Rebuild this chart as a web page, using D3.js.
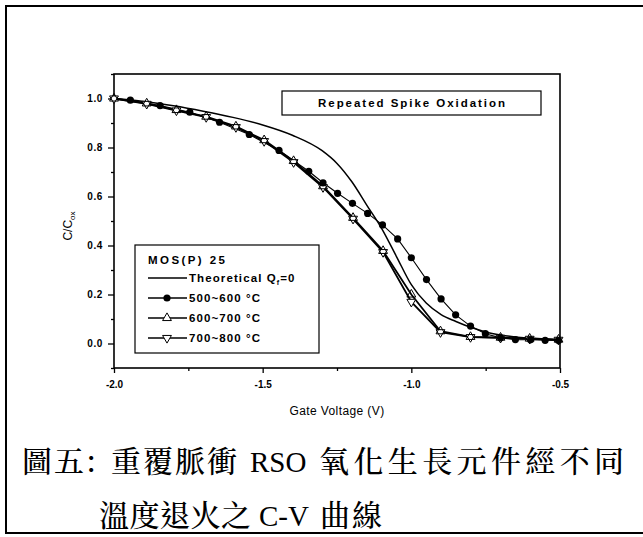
<!DOCTYPE html>
<html>
<head>
  <meta charset="utf-8">
  <script src="https://d3js.org/d3.v7.min.js"></script>
  <style>
    body { margin: 0; background: #fff; }
    text { font-family: "Liberation Sans", Arial, sans-serif; fill: #000; }
    .tick-label { font-size: 10px; font-weight: bold; }
    .cap { font-family: "Noto Serif CJK TC", "Noto Sans CJK TC", serif; font-size: 30px; font-weight: 500; }
    .cap-lat { font-family: "Liberation Serif", "Times New Roman", serif; font-size: 29px; }
  </style>
</head>
<body>
<div id="chart"></div>
<script>
// theoretical C-V curve (Qf = 0)
var theoV = [-2.0, -1.9, -1.8, -1.7, -1.6, -1.5, -1.4, -1.3, -1.25, -1.2, -1.15, -1.1, -1.05, -1.0, -0.95, -0.9, -0.85, -0.8, -0.75, -0.7, -0.65, -0.6, -0.55, -0.5];
var theoC = [1.0, 0.988, 0.97, 0.948, 0.923, 0.892, 0.85, 0.787, 0.735, 0.66, 0.565, 0.47, 0.355, 0.24, 0.165, 0.118, 0.09, 0.066, 0.047, 0.035, 0.027, 0.022, 0.018, 0.015];

// 500~600 C, filled circles
var v500 = [-1.945, -1.845, -1.745, -1.645, -1.545, -1.445, -1.345, -1.297, -1.248, -1.198, -1.147, -1.097, -1.046, -1.0, -0.949, -0.9, -0.851, -0.801, -0.751, -0.7, -0.65, -0.599, -0.55, -0.505];
var c500 = [0.993, 0.971, 0.944, 0.903, 0.853, 0.788, 0.703, 0.656, 0.613, 0.572, 0.531, 0.484, 0.427, 0.35, 0.261, 0.182, 0.117, 0.071, 0.04, 0.023, 0.016, 0.015, 0.013, 0.012];

// 600~700 C, up triangles
var v600 = [-2.0, -1.89, -1.79, -1.69, -1.59, -1.495, -1.396, -1.297, -1.196, -1.095, -1.0, -0.902, -0.801, -0.7, -0.602, -0.505];
var c600 = [1.0, 0.98, 0.953, 0.926, 0.886, 0.83, 0.745, 0.642, 0.513, 0.378, 0.2, 0.05, 0.027, 0.024, 0.02, 0.016];

// 700~800 C, down triangles
var v700 = [-2.0, -1.89, -1.79, -1.69, -1.59, -1.495, -1.396, -1.297, -1.196, -1.095, -1.0, -0.902, -0.801, -0.7, -0.602, -0.505];
var c700 = [1.0, 0.978, 0.951, 0.924, 0.883, 0.826, 0.74, 0.638, 0.509, 0.373, 0.17, 0.046, 0.026, 0.023, 0.019, 0.015];

var xTicks = [-2.0, -1.5, -1.0, -0.5];
var xMinor = [-1.75, -1.25, -0.75];
var yTicks = [0.0, 0.2, 0.4, 0.6, 0.8, 1.0];
var yMinor = [-0.1, 0.1, 0.3, 0.5, 0.7, 0.9, 1.1];

var width = 643, height = 537;
var plotL = 114, plotR = 560, plotT = 74, plotB = 368;

var svg = d3.select('#chart').append('svg')
  .attr('width', width)
  .attr('height', height);

// outer frame of the figure
svg.append('rect')
  .attr('x', 6).attr('y', 6)
  .attr('width', 650).attr('height', 527)
  .attr('fill', 'none').attr('stroke', '#000').attr('stroke-width', 2);

var x = d3.scaleLinear().domain([-2.0, -0.5]).range([plotL, plotR]);
var y = d3.scaleLinear().domain([-0.1, 1.1]).range([plotB, plotT]);

var fmt = function(d) { return d3.format('.1f')(d).replace('−', '-'); };

// axes
var xAxis = svg.append('g')
  .attr('transform', 'translate(0,' + plotB + ')')
  .call(d3.axisBottom(x).tickValues(xTicks).tickSize(5).tickFormat(fmt));
svg.append('g')
  .attr('transform', 'translate(0,' + plotB + ')')
  .call(d3.axisBottom(x).tickValues(xMinor).tickSize(3).tickFormat(''));

var yAxis = svg.append('g')
  .attr('transform', 'translate(' + plotL + ',0)')
  .call(d3.axisLeft(y).tickValues(yTicks).tickSize(6).tickFormat(fmt));
svg.append('g')
  .attr('transform', 'translate(' + plotL + ',0)')
  .call(d3.axisLeft(y).tickValues(yMinor).tickSize(3).tickFormat(''));

svg.selectAll('.tick line').attr('stroke-width', 1.3);
svg.selectAll('.domain').remove();
xAxis.selectAll('text').attr('class', 'tick-label').attr('y', 13).attr('dy', '0.71em');
yAxis.selectAll('text').attr('class', 'tick-label').attr('x', -11).style('letter-spacing', '0.6px');

// plot box
svg.append('rect')
  .attr('x', plotL).attr('y', plotT)
  .attr('width', plotR - plotL).attr('height', plotB - plotT)
  .attr('fill', 'none').attr('stroke', '#000').attr('stroke-width', 1.6);

// axis titles
svg.append('text')
  .attr('x', (plotL + plotR) / 2).attr('y', 415)
  .attr('text-anchor', 'middle')
  .style('font-size', '12px').style('letter-spacing', '0.4px')
  .text('Gate Voltage (V)');

var yl = svg.append('text')
  .attr('transform', 'translate(72,226) rotate(-90)')
  .attr('text-anchor', 'middle')
  .style('font-size', '12px');
yl.append('tspan').text('C/C');
yl.append('tspan').attr('dy', 3).style('font-size', '8px').text('ox');

// series
var line = d3.line()
  .x(function(d) { return x(d[0]); })
  .y(function(d) { return y(d[1]); });
var smooth = d3.line()
  .x(function(d) { return x(d[0]); })
  .y(function(d) { return y(d[1]); })
  .curve(d3.curveMonotoneX);

var theo = d3.zip(theoV, theoC);
var s500 = d3.zip(v500, c500);
var s600 = d3.zip(v600, c600);
var s700 = d3.zip(v700, c700);

svg.append('path').datum(s700)
  .attr('d', line).attr('fill', 'none').attr('stroke', '#000').attr('stroke-width', 1.8);
svg.append('path').datum(s600)
  .attr('d', line).attr('fill', 'none').attr('stroke', '#000').attr('stroke-width', 1.8);
svg.append('path').datum(s500)
  .attr('d', line).attr('fill', 'none').attr('stroke', '#000').attr('stroke-width', 1.1);
svg.append('path').datum(theo)
  .attr('d', smooth).attr('fill', 'none').attr('stroke', '#000').attr('stroke-width', 1.5);

var tri = d3.symbol().type(d3.symbolTriangle).size(34);

svg.selectAll('.m700').data(s700).enter().append('path')
  .attr('class', 'm700')
  .attr('d', tri)
  .attr('transform', function(d) { return 'translate(' + x(d[0]) + ',' + y(d[1]) + ') rotate(180)'; })
  .attr('fill', '#fff').attr('stroke', '#000').attr('stroke-width', 1);

svg.selectAll('.m600').data(s600).enter().append('path')
  .attr('class', 'm600')
  .attr('d', tri)
  .attr('transform', function(d) { return 'translate(' + x(d[0]) + ',' + y(d[1]) + ')'; })
  .attr('fill', 'none').attr('stroke', '#000').attr('stroke-width', 1);

svg.selectAll('.m500').data(s500).enter().append('circle')
  .attr('class', 'm500')
  .attr('cx', function(d) { return x(d[0]); })
  .attr('cy', function(d) { return y(d[1]); })
  .attr('r', 3.6)
  .attr('fill', '#000');

// title box
svg.append('rect')
  .attr('x', 282).attr('y', 91).attr('width', 259).attr('height', 24)
  .attr('fill', '#fff').attr('stroke', '#000').attr('stroke-width', 1.2);
svg.append('text')
  .attr('x', 318).attr('y', 107)
  .attr('textLength', 187).attr('lengthAdjust', 'spacing')
  .style('font-size', '11.5px').style('font-weight', 'bold')
  .text('Repeated Spike Oxidation');

// legend
var lg = svg.append('g').attr('transform', 'translate(135,245)');
lg.append('rect')
  .attr('width', 184).attr('height', 108)
  .attr('fill', '#fff').attr('stroke', '#000').attr('stroke-width', 1.2);
lg.append('text')
  .attr('x', 13).attr('y', 19)
  .attr('textLength', 77).attr('lengthAdjust', 'spacing')
  .style('font-size', '11.5px').style('font-weight', 'bold')
  .text('MOS(P) 25');

var legendItems = [
  { label: 'Theoretical Q', sub: 'f', tail: '=0', mark: 'none' },
  { label: '500~600 °C', mark: 'circle' },
  { label: '600~700 °C', mark: 'up' },
  { label: '700~800 °C', mark: 'down' }
];
var row = lg.selectAll('.row').data(legendItems).enter().append('g')
  .attr('transform', function(d, i) { return 'translate(0,' + (33 + i * 20) + ')'; });
row.append('line')
  .attr('x1', 13).attr('x2', 52)
  .attr('stroke', '#000').attr('stroke-width', 1.6);
row.filter(function(d) { return d.mark === 'circle'; }).append('circle')
  .attr('cx', 32).attr('r', 3.6).attr('fill', '#000');
row.filter(function(d) { return d.mark === 'up'; }).append('path')
  .attr('d', tri).attr('transform', 'translate(32,0)')
  .attr('fill', '#fff').attr('stroke', '#000');
row.filter(function(d) { return d.mark === 'down'; }).append('path')
  .attr('d', tri).attr('transform', 'translate(32,0) rotate(180)')
  .attr('fill', '#fff').attr('stroke', '#000');
var lt = row.append('text')
  .attr('x', 54).attr('y', 4)
  .style('font-size', '11.5px').style('font-weight', 'bold').style('letter-spacing', '1.1px');
lt.append('tspan').text(function(d) { return d.label; });
lt.filter(function(d) { return d.sub; }).append('tspan')
  .attr('dy', 3).style('font-size', '7px').text(function(d) { return d.sub; });
lt.filter(function(d) { return d.tail; }).append('tspan')
  .attr('dy', -3).text(function(d) { return d.tail; });

// caption, two lines; each piece is [text, class, x, width or 0 for natural]
var capLine1 = [['圖五:', 'cap', 22, 74], ['重覆脈衝', 'cap', 111, 126], ['RSO', 'cap-lat', 250, 0], ['氧化生長元件經不同', 'cap', 319, 305]];
var capLine2 = [['溫度退火之', 'cap', 99, 152], ['C-V', 'cap-lat', 259, 0], ['曲線', 'cap', 320, 62]];

function caption(pieces, baseY) {
  var t = svg.append('g').selectAll('text').data(pieces).enter().append('text')
    .attr('class', function(d) { return d[1]; })
    .attr('x', function(d) { return d[2]; })
    .attr('y', baseY)
    .text(function(d) { return d[0]; });
  t.filter(function(d) { return d[3] > 0; })
    .attr('textLength', function(d) { return d[3]; })
    .attr('lengthAdjust', 'spacing');
}
caption(capLine1, 472);
caption(capLine2, 526);
</script>
</body>
</html>
